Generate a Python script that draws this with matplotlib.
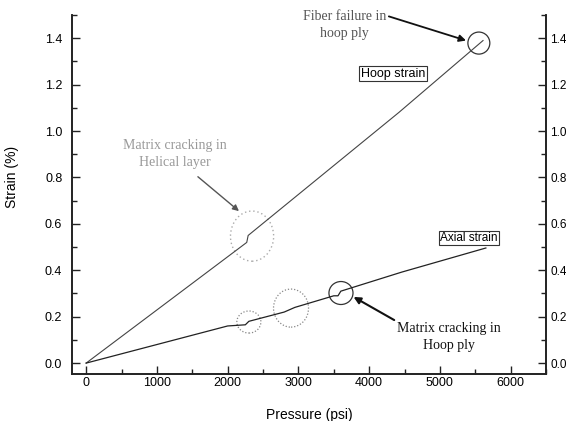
import matplotlib
matplotlib.use('Agg')
import matplotlib.pyplot as plt
from matplotlib.patches import Ellipse
from matplotlib.ticker import MultipleLocator

# pressure (psi) / strain (%)
hoop_p = [0, 1000, 2270, 2290, 4420, 5610]
hoop_s = [0.0, 0.229, 0.52, 0.55, 1.08, 1.39]
axial_p = [0, 1000, 2000, 2250, 2300, 2800, 2950, 3500, 3560, 3600, 4460, 5650]
axial_s = [0.0, 0.08, 0.16, 0.165, 0.18, 0.22, 0.24, 0.29, 0.29, 0.31, 0.392, 0.496]

# marked events: (x, y, width, height, style)
marks = [
    (2345, 0.547, 610, 0.216, 'helical'),
    (2300, 0.177, 340, 0.095, 'dotted'),
    (2896, 0.237, 495, 0.164, 'dotted'),
    (3602, 0.302, 340, 0.099, 'solid'),
    (5551, 1.379, 310, 0.095, 'solid'),
]

plt.rcParams['font.family'] = ['Liberation Sans', 'DejaVu Sans']
serif = ['Liberation Serif', 'DejaVu Serif']

fig = plt.figure(figsize=(5.66, 4.21), dpi=100)
ax = fig.add_axes([72/566, 47/421, 474/566, 359/421])

ax.plot(hoop_p, hoop_s, color='#444444', lw=0.8)
ax.plot(axial_p, axial_s, color='#222222', lw=0.9)

for x, y, w, h, st in marks:
    if st == 'helical':
        e = Ellipse((x, y), w, h, fill=False, ec='#aaaaaa', ls=(0, (1, 2)), lw=1.0)
    elif st == 'dotted':
        e = Ellipse((x, y), w, h, fill=False, ec='#888888', ls=(0, (1, 1.5)), lw=0.9)
    else:
        e = Ellipse((x, y), w, h, fill=False, ec='#333333', lw=0.9)
    ax.add_patch(e)

ax.text(4336, 1.246, 'Hoop strain', ha='center', va='center', fontsize=9,
        bbox=dict(boxstyle='square,pad=0.12', fc='white', ec='#333333', lw=0.8))
ax.text(5410, 0.539, 'Axial strain', ha='center', va='center', fontsize=8.5,
        bbox=dict(boxstyle='square,pad=0.12', fc='white', ec='#333333', lw=0.8))

ax.annotate('Fiber failure in\nhoop ply', xy=(5370, 1.39), xytext=(3650, 1.459),
            ha='center', va='center', fontsize=10, family=serif, color='#555555',
            linespacing=1.4,
            arrowprops=dict(arrowstyle='-|>', color='#111111', lw=1.3,
                            shrinkA=0, shrinkB=0, mutation_scale=10,
                            relpos=(1.0, 0.8)))
ax.annotate('Matrix cracking in\nHelical layer', xy=(2160, 0.655), xytext=(1257, 0.90),
            ha='center', va='center', fontsize=10, family=serif, color='#999999',
            linespacing=1.4,
            arrowprops=dict(arrowstyle='-|>', color='#555555', lw=1.0,
                            shrinkA=0, shrinkB=0, mutation_scale=9,
                            relpos=(0.72, -0.25)))
ax.annotate('Matrix cracking in\nHoop ply', xy=(3780, 0.285), xytext=(5127, 0.114),
            ha='center', va='center', fontsize=10, family=serif, color='#111111',
            linespacing=1.4,
            arrowprops=dict(arrowstyle='-|>', color='#111111', lw=1.5,
                            shrinkA=0, shrinkB=0, mutation_scale=10,
                            relpos=(0.0, 1.0)))

ax.set_xlim(-200, 6500)
ax.set_ylim(-0.047, 1.5)
ax.xaxis.set_major_locator(MultipleLocator(1000))
ax.xaxis.set_minor_locator(MultipleLocator(500))

# right-hand copy of the strain axis
ax2 = ax.twinx()
ax2.set_ylim(ax.get_ylim())
for a in (ax, ax2):
    a.yaxis.set_major_locator(MultipleLocator(0.2))
    a.yaxis.set_minor_locator(MultipleLocator(0.1))
    a.yaxis.set_major_formatter(plt.FormatStrFormatter('%.1f'))
    a.spines['top'].set_visible(False)
    for s in ('left', 'right', 'bottom'):
        a.spines[s].set_linewidth(1.2)
        a.spines[s].set_color('#222222')
    a.tick_params(which='both', direction='in', top=False, width=1.0, color='#222222')
    a.tick_params(which='major', length=6)
    a.tick_params(which='minor', length=3.5)

ax.tick_params(labelsize=9)
ax.tick_params(axis='y', pad=7, right=False)
ax.tick_params(axis='x', pad=2)
ax2.tick_params(axis='y', labelsize=8.5, pad=3)

ax.set_xlabel('Pressure (psi)', fontsize=10)
ax.set_ylabel('Strain (%)', fontsize=10)
ax.xaxis.set_label_coords(0.5, -0.095)
ax.yaxis.set_label_coords(-0.112, 0.55)

fig.savefig('out.png', dpi=100)
